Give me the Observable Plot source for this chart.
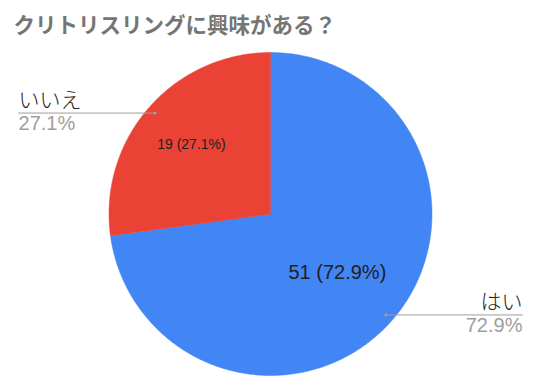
<!DOCTYPE html>
<html><head><meta charset="utf-8">
<script src="https://cdn.jsdelivr.net/npm/d3@7"></script>
<script src="https://cdn.jsdelivr.net/npm/@observablehq/plot@0.6"></script>
<style>body{margin:0;background:#fff}</style>
</head><body><div id="chart"></div>
<script>
// ---- data ----
const title = "クリトリスリングに興味がある？";
const categories = ["はい", "いいえ"];
const counts = [51, 19];
const sliceColors = ["#4285F4", "#EA4335"];

// ---- layout ----
const W = 540, H = 390;
const cx = 270, cy = 213.5, R = 161.5;
const leaderEnd = 1.56;          // in radius units
const dotR = 0.95;               // leader start, radius units
const innerR = [0.55, 0.65];     // inner label distance per slice
const innerSize = [20, 14];      // inner label font size per slice
const fontFamily = "'Liberation Sans', Arial, 'Noto Sans CJK JP', sans-serif";

const total = d3.sum(counts);
const fmtPct = d3.format(".1%");
const rows = categories.map((c, i) => ({cat: c, count: counts[i], pct: fmtPct(counts[i] / total), i}));
const arcs = d3.pie().sort(null).value(d => d.count)(rows);

// slice outlines
const slicePts = [];
for (const a of arcs) {
  slicePts.push({cat: a.data.cat, x: 0, y: 0});
  const n = Math.max(8, Math.ceil((a.endAngle - a.startAngle) / 0.01));
  for (let k = 0; k <= n; k++) {
    const t = a.startAngle + (a.endAngle - a.startAngle) * k / n;
    slicePts.push({cat: a.data.cat, x: Math.sin(t), y: Math.cos(t)});
  }
}

const mid = a => (a.startAngle + a.endAngle) / 2;
const leaders = [];
const outer = [];
const inner = [];
for (const a of arcs) {
  const m = mid(a);
  const sx = dotR * Math.sin(m), sy = dotR * Math.cos(m);
  const ex = sx >= 0 ? leaderEnd : -leaderEnd;
  leaders.push({cat: a.data.cat, x: sx, y: sy, start: true});
  leaders.push({cat: a.data.cat, x: ex, y: sy, start: false});
  outer.push({cat: a.data.cat, pct: a.data.pct, x: ex, y: sy, right: ex > 0});
  const ir = innerR[a.data.i];
  inner.push({x: ir * Math.sin(m), y: ir * Math.cos(m), label: `${a.data.count} (${a.data.pct})`, size: innerSize[a.data.i]});
}
const leftLabels = outer.filter(d => !d.right);
const rightLabels = outer.filter(d => d.right);

const outerText = (data, anchor) => [
  Plot.text(data, {x: "x", y: "y", text: "cat", textAnchor: anchor, dy: -13, fontSize: 21, fill: "#222", fontWeight: 300}),
  Plot.text(data, {x: "x", y: "y", text: "pct", textAnchor: anchor, dy: 11, fontSize: 20, fill: "#9E9E9E"})
];

const chart = Plot.plot({
  width: W, height: H,
  margin: 0,
  style: {fontFamily, background: "#fff"},
  x: {domain: [-1, 1], range: [cx - R, cx + R], axis: null},
  y: {domain: [-1, 1], range: [cy + R, cy - R], axis: null},
  color: {domain: categories, range: sliceColors},
  marks: [
    Plot.line(slicePts, {x: "x", y: "y", z: "cat", fill: "cat", stroke: "cat", strokeWidth: 0.5, curve: "linear-closed"}),
    Plot.line(leaders, {x: "x", y: "y", z: "cat", stroke: "#9E9E9E", strokeWidth: 1}),
    Plot.dot(leaders.filter(d => d.start), {x: "x", y: "y", r: 1.6, fill: "#9E9E9E", stroke: null}),
    ...outerText(leftLabels, "start"),
    ...outerText(rightLabels, "end"),
    Plot.text(inner, {x: "x", y: "y", text: "label", fontSize: "size", fill: "#212121"}),
    Plot.text([title], {frameAnchor: "top-left", textAnchor: "start", lineAnchor: "top", dx: 13, dy: 17, fontSize: 21.5, fontWeight: "bold", fill: "#757575", fontFamily: "'Noto Sans CJK JP', sans-serif"})
  ]
});
document.getElementById("chart").appendChild(chart);
</script>
</body></html>
